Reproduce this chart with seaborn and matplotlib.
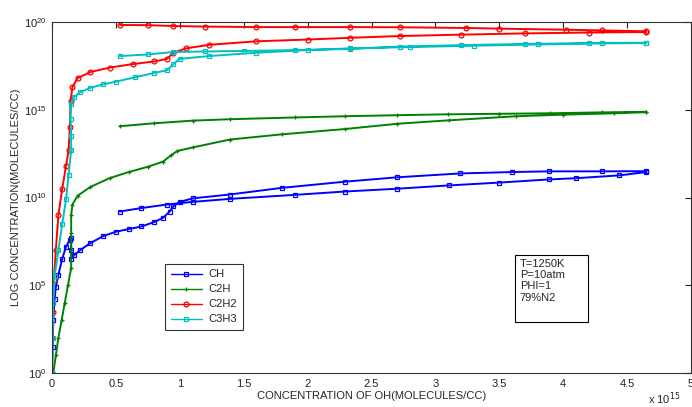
import numpy as np
import pandas as pd
import matplotlib
matplotlib.use("Agg")
import matplotlib.pyplot as plt
import matplotlib.ticker as mticker
from matplotlib.patches import Rectangle
import seaborn as sns

# ---- data: x in units of 1e15 molecules/cc, y as log10(concentration) ----
species = ["CH", "C2H", "C2H2", "C3H3"]
colors = ["#0000ff", "#008000", "#ff0000", "#00bfbf"]
markers = ["s", "+", "o", "s"]

ch_fwd_x = [0.0, 0.005, 0.01, 0.02, 0.03, 0.05, 0.08, 0.11, 0.14, 0.15, 0.15, 0.15, 0.17, 0.22, 0.3, 0.4, 0.5,
            0.6, 0.7, 0.8, 0.87, 0.92, 0.95, 1.0, 1.1, 1.39, 1.8, 2.29, 2.7, 3.19, 3.6, 3.89, 4.3, 4.65]
ch_fwd_y = [0.0, 1.5, 3.0, 4.2, 4.9, 5.6, 6.5, 7.2, 7.6, 7.7, 7.0, 6.5, 6.7, 7.0, 7.4, 7.8, 8.05,
            8.2, 8.35, 8.6, 8.85, 9.2, 9.5, 9.75, 9.95, 10.17, 10.55, 10.9, 11.15, 11.37, 11.45, 11.49, 11.49, 11.5]
ch_ret_x = [4.65, 4.44, 4.1, 3.89, 3.5, 3.11, 2.7, 2.29, 1.9, 1.39, 1.1, 0.9, 0.7, 0.53]
ch_ret_y = [11.45, 11.26, 11.1, 11.03, 10.85, 10.69, 10.5, 10.34, 10.15, 9.92, 9.75, 9.6, 9.4, 9.2]

c2h_fwd_x = [0.01, 0.03, 0.05, 0.075, 0.1, 0.125, 0.15, 0.15, 0.15, 0.15, 0.16, 0.2, 0.3, 0.45, 0.6, 0.75,
             0.87, 0.93, 0.98, 1.1, 1.39, 1.8, 2.29, 2.7, 3.11, 3.63, 4.0, 4.4, 4.65]
c2h_fwd_y = [0.0, 1.0, 2.0, 3.0, 4.0, 5.0, 6.0, 7.0, 8.0, 9.0, 9.6, 10.1, 10.6, 11.1, 11.45, 11.75,
             12.05, 12.4, 12.65, 12.85, 13.3, 13.6, 13.9, 14.2, 14.4, 14.63, 14.72, 14.8, 14.86]
c2h_ret_x = [4.65, 4.3, 3.9, 3.5, 3.1, 2.7, 2.29, 1.9, 1.39, 1.1, 0.8, 0.53]
c2h_ret_y = [14.88, 14.85, 14.8, 14.77, 14.74, 14.69, 14.63, 14.56, 14.46, 14.38, 14.23, 14.06]

c2h2_fwd_x = [0.0, 0.002, 0.005, 0.015, 0.03, 0.05, 0.08, 0.11, 0.13, 0.14, 0.145, 0.16, 0.2, 0.3, 0.45,
              0.63, 0.8, 0.9, 0.95, 1.05, 1.23, 1.6, 2.0, 2.33, 2.72, 3.2, 3.7, 4.2, 4.65]
c2h2_fwd_y = [0.0, 2.0, 3.5, 5.3, 7.0, 9.0, 10.5, 11.8, 12.7, 14.0, 15.5, 16.3, 16.8, 17.15, 17.4,
              17.6, 17.75, 17.9, 18.25, 18.5, 18.7, 18.9, 19.0, 19.1, 19.2, 19.28, 19.35, 19.4, 19.43]
c2h2_ret_x = [4.65, 4.3, 4.02, 3.5, 3.24, 2.72, 2.33, 1.9, 1.6, 1.2, 0.95, 0.75, 0.53]
c2h2_ret_y = [19.47, 19.52, 19.56, 19.62, 19.66, 19.7, 19.71, 19.71, 19.71, 19.74, 19.77, 19.82, 19.83]

c3h3_fwd_x = [0.0, 0.005, 0.01, 0.02, 0.05, 0.08, 0.11, 0.13, 0.15, 0.15, 0.145, 0.15, 0.17, 0.22, 0.3,
              0.4, 0.5, 0.65, 0.8, 0.9, 0.95, 1.0, 1.23, 1.6, 2.0, 2.33, 2.8, 3.3, 3.8, 4.3, 4.65]
c3h3_fwd_y = [0.0, 2.0, 4.0, 5.5, 7.0, 8.5, 9.9, 11.3, 12.7, 13.5, 14.5, 15.3, 15.7, 16.0, 16.25,
              16.45, 16.6, 16.85, 17.1, 17.25, 17.6, 17.9, 18.06, 18.25, 18.4, 18.5, 18.57, 18.65, 18.72, 18.78, 18.8]
c3h3_ret_x = [4.65, 4.2, 3.7, 3.2, 2.72, 2.33, 1.9, 1.5, 1.2, 0.95, 0.75, 0.53]
c3h3_ret_y = [18.82, 18.8, 18.75, 18.68, 18.6, 18.46, 18.4, 18.35, 18.32, 18.29, 18.15, 18.06]

series_x = [ch_fwd_x + ch_ret_x, c2h_fwd_x + c2h_ret_x, c2h2_fwd_x + c2h2_ret_x, c3h3_fwd_x + c3h3_ret_x]
series_y = [ch_fwd_y + ch_ret_y, c2h_fwd_y + c2h_ret_y, c2h2_fwd_y + c2h2_ret_y, c3h3_fwd_y + c3h3_ret_y]

conditions = "T=1250K\nP=10atm\nPHI=1\n79%N2"

# ---- style ----
sns.set_style("white")
plt.rcParams["font.family"] = ["Liberation Sans", "DejaVu Sans"]
plt.rcParams["font.size"] = 8
plt.rcParams["axes.linewidth"] = 0.8

fig = plt.figure(figsize=(6.92, 4.07), dpi=100)
ax = fig.add_axes([52 / 692, 1 - 373 / 407, (691 - 52) / 692, (373 - 22) / 407])

for name, c, m, xs, ys in zip(species, colors, markers, series_x, series_y):
    df = pd.DataFrame({"x": xs, "y": np.power(10.0, ys)})
    sns.lineplot(data=df, x="x", y="y", sort=False, estimator=None, ax=ax,
                 color=c, marker=m, markerfacecolor="none", markeredgecolor=c,
                 markersize=3.5, markeredgewidth=0.9, linewidth=1.4, label=name)

ax.set_yscale("log")
ax.set_xlim(0, 5)
ax.set_ylim(1, 1e20)
ax.set_xticks([0, 0.5, 1, 1.5, 2, 2.5, 3, 3.5, 4, 4.5, 5])
ax.set_xticklabels(["0", "0.5", "1", "1.5", "2", "2.5", "3", "3.5", "4", "4.5", "5"])
ax.set_yticks([1, 1e5, 1e10, 1e15, 1e20])
ax.yaxis.set_major_formatter(mticker.LogFormatterSciNotation())
ax.yaxis.set_minor_locator(mticker.NullLocator())
ax.tick_params(axis="both", which="both", direction="in", length=4, width=0.8,
               top=True, right=True, labelsize=8, colors="#222222", pad=4)
for s in ax.spines.values():
    s.set_color("#333333")

ax.set_xlabel("CONCENTRATION OF OH(MOLECULES/CC)", fontsize=8, labelpad=2)
ax.set_ylabel("LOG CONCENTRATION(MOLECULES/CC)", fontsize=8, labelpad=2)
ax.text(0.932, -0.072, r"x 10$^{15}$", transform=ax.transAxes, fontsize=8,
        ha="left", va="center")

leg = ax.legend(loc="lower left", bbox_to_anchor=(0.177, 0.1225), borderaxespad=0,
                fontsize=8, frameon=True, fancybox=False, edgecolor="black",
                handlelength=2.8, handletextpad=0.6, labelspacing=0.45, numpoints=1,
                borderpad=0.5)
leg.get_frame().set_linewidth(0.8)
for h in leg.get_lines():
    h.set_linewidth(1.0)

ax.add_patch(Rectangle((0.7246, 0.145), 0.114, 0.191, transform=ax.transAxes,
                       fill=False, edgecolor="black", linewidth=0.8))
ax.text(0.732, 0.325, conditions, transform=ax.transAxes, fontsize=8,
        ha="left", va="top", linespacing=1.15)

fig.savefig("out.png", dpi=100)
